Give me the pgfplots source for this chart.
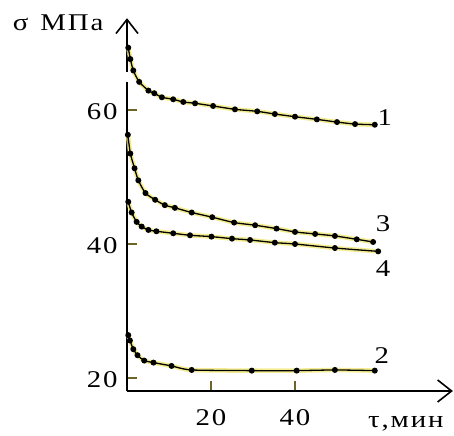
\documentclass[border=0pt]{standalone}
\usepackage{fontspec}
\setmainfont{Liberation Serif}[FakeStretch=1.2,LetterSpace=8]
\usepackage{pgfplots}
\usepackage{pgfplotstable}
\pgfplotsset{compat=1.18}
\usetikzlibrary{arrows.meta}

\pgfplotstableread{
t v
0.3 69.3
0.8 67.6
1.5 65.9
2.9 64.2
5.1 62.9
6.5 62.5
8.3 61.9
11.0 61.6
13.4 61.2
16.2 61.0
20.5 60.6
25.7 60.1
31.0 59.8
35.2 59.4
40.0 59.0
45.2 58.6
50.0 58.2
54.3 57.9
59.0 57.8
}\curveA

\pgfplotstableread{
t v
0.3 26.4
0.7 25.6
1.5 24.3
2.5 23.4
4.1 22.6
6.3 22.3
10.6 21.8
15.4 21.2
29.7 21.1
40.4 21.1
49.5 21.2
59.0 21.1
}\curveB

\pgfplotstableread{
t v
0.2 56.3
0.8 53.5
1.8 51.3
2.7 49.5
4.4 47.6
6.7 46.6
9.0 45.8
11.4 45.4
15.4 44.7
20.3 44.0
25.5 43.2
30.5 42.8
35.6 42.3
40.0 41.8
44.8 41.5
49.5 41.2
54.7 40.7
58.6 40.3
}\curveC

\pgfplotstableread{
t v
0.3 46.3
1.1 44.7
2.3 43.3
3.5 42.6
5.1 42.1
7.0 41.9
11.0 41.6
15.0 41.3
20.1 41.1
25.0 40.8
29.3 40.6
35.2 40.2
40.0 40.0
49.5 39.4
59.8 38.9
}\curveD

\definecolor{halo}{RGB}{240,230,110}
\definecolor{tickol}{RGB}{110,100,40}

\begin{document}
\begin{tikzpicture}[font=\fontsize{24}{26}\selectfont]
\begin{axis}[
  x=4.2pt, y=6.7pt,
  xmin=0, xmax=77.6, ymin=18.06, ymax=73.7,
  axis lines=left,
  axis line style={line width=1.6pt, -{Straight Barb[length=14pt,width=22pt,line width=1.6pt]}},
  xtick={20,40}, ytick={20,40,60},
  tick align=inside, major tick length=10pt,
  tick style={line width=1.2pt, color=tickol},
  every tick label/.append style={font=\fontsize{24}{26}\selectfont},
  /pgf/number format/assume math mode=true,
  xticklabel style={yshift=-15pt},
  yticklabel style={xshift=-6pt, yshift=-2pt},
  clip=false,
  halo/.style={no marks, line width=4.5pt, color=halo, opacity=0.75, smooth, tension=0.4},
  curve/.style={black, line width=1.3pt, mark=*, mark size=2.3pt, mark options={fill=black}, smooth, tension=0.4},
]
\draw[white, line width=5pt] (axis cs:0,64.2) -- (axis cs:0,65.6);

\addplot[halo] table[x=t,y=v] {\curveA};
\addplot[halo] table[x=t,y=v] {\curveB};
\addplot[halo] table[x=t,y=v] {\curveC};
\addplot[halo] table[x=t,y=v] {\curveD};

\addplot[curve] table[x=t,y=v] {\curveA};
\addplot[curve] table[x=t,y=v] {\curveB};
\addplot[curve] table[x=t,y=v] {\curveC};
\addplot[curve] table[x=t,y=v] {\curveD};

\node at (axis cs:61.4,58.8) {1};
\node at (axis cs:60.7,23.4) {2};
\node at (axis cs:61.0,43.1) {3};
\node at (axis cs:61.0,36.4) {4};

\node[anchor=base] at (axis cs:-16.4,71.9) {σ\hspace{0.5em}МПа};
\node[anchor=base] at (axis cs:66.4,12.6) {τ,мин};

\coordinate (BL) at (axis cs:-30.24,11.49);
\coordinate (TR) at (axis cs:77.86,76.42);
\end{axis}
\pgfresetboundingbox
\useasboundingbox (BL) rectangle (TR);
\end{tikzpicture}
\end{document}
